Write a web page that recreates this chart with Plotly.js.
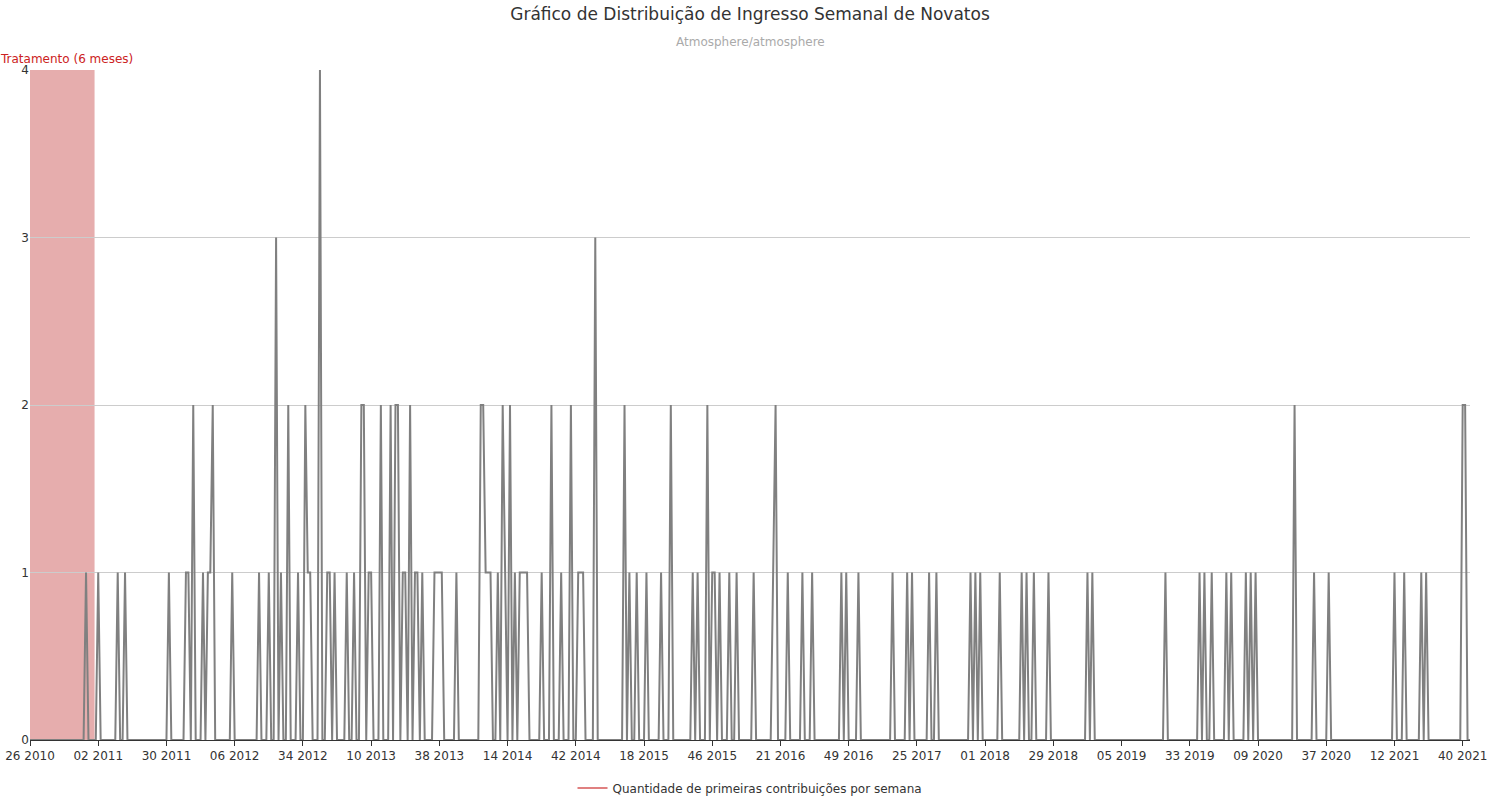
<html><head><script src="https://cdn.plot.ly/plotly-3.0.1.min.js"></script></head><body style="margin:0">
<div id="c" style="width:1500px;height:800px"></div>
<script>
const tickLabels=["26 2010","02 2011","30 2011","06 2012","34 2012","10 2013","38 2013","14 2014","42 2014","18 2015","46 2015","21 2016","49 2016","25 2017","01 2018","29 2018","05 2019","33 2019","09 2020","37 2020","12 2021","40 2021"];
const totalWeeks=592;
const spikeWeeks=[23,28,36,39,57,64,65,67,71,73,74,75,83,94,98,101,103,106,110,113,114,115,119,122,123,125,130,133,136,137,139,140,144,148,150,151,153,154,156,158,159,161,166,167,168,169,175,185,186,187,188,189,192,194,195,197,199,201,202,203,204,210,214,218,222,225,226,227,232,244,246,249,253,259,263,272,274,278,280,281,283,287,290,297,305,306,311,317,321,333,335,340,354,360,362,369,372,386,388,390,398,407,409,412,418,434,436,466,480,482,485,491,493,499,501,503,519,527,533,560,564,571,573,588,589];
const spikeValues=[1,1,1,1,1,1,1,2,1,1,1,2,1,1,1,3,1,2,1,2,1,1,4,1,1,1,1,1,2,2,1,1,2,2,2,2,1,1,2,1,1,1,1,1,1,1,1,2,2,1,1,1,1,2,1,2,1,1,1,1,1,1,2,1,2,1,1,1,3,2,1,1,1,1,2,1,1,2,1,1,1,1,1,1,1,2,1,1,1,1,1,1,1,1,1,1,1,1,1,1,1,1,1,1,1,1,1,1,1,1,1,1,1,1,1,1,2,1,1,1,1,1,1,2,2];
const x=[],y=[];
for(let i=0;i<totalWeeks;i++){x.push(i);y.push(0);}
spikeWeeks.forEach((w,k)=>{y[w]=spikeValues[k];});
const tickVals=tickLabels.map((_,i)=>i*28);
Plotly.newPlot('c',[
 {x:x,y:y,type:'scatter',mode:'lines',line:{color:'#808080',width:2},showlegend:false,hoverinfo:'x+y'},
 {x:[null],y:[null],type:'scatter',mode:'lines',line:{color:'#e08080',width:2},name:'Quantidade de primeiras contribuições por semana'}
],{
 width:1500,height:800,margin:{l:30,r:30,t:70,b:60,autoexpand:false},
 font:{family:'DejaVu Sans',size:12,color:'#333'},
 paper_bgcolor:'white',plot_bgcolor:'white',
 title:{text:'Gráfico de Distribuição de Ingresso Semanal de Novatos',x:0.5,y:0.99,yanchor:'top',font:{size:17,color:'#333'}},
 xaxis:{range:[0,591],tickvals:tickVals,ticktext:tickLabels,showgrid:false,zeroline:false,showline:true,linecolor:'#333',ticks:'outside',ticklen:5,tickcolor:'#333',tickfont:{size:12},automargin:false},
 yaxis:{range:[0,4],dtick:1,showgrid:true,gridcolor:'#ccc',zeroline:false,showline:false,tickfont:{size:12},automargin:false},
 shapes:[{type:'rect',xref:'x',yref:'paper',x0:0,x1:26.5,y0:0,y1:1,fillcolor:'rgba(205,92,92,0.5)',line:{width:0},layer:'below'}],
 annotations:[
  {text:'Atmosphere/atmosphere',xref:'paper',yref:'paper',x:0.5,y:1,yshift:37,showarrow:false,font:{size:12,color:'#aaa'}},
  {text:'Tratamento (6 meses)',xref:'x',yref:'paper',x:0,y:1,yanchor:'bottom',xanchor:'left',xshift:-32,yshift:2,showarrow:false,font:{size:12,color:'#cc2222'}}
 ],
 legend:{orientation:'h',x:0.5,xanchor:'center',y:-0.05,yanchor:'top',font:{size:12}}
},{displayModeBar:false});
</script></body></html>
